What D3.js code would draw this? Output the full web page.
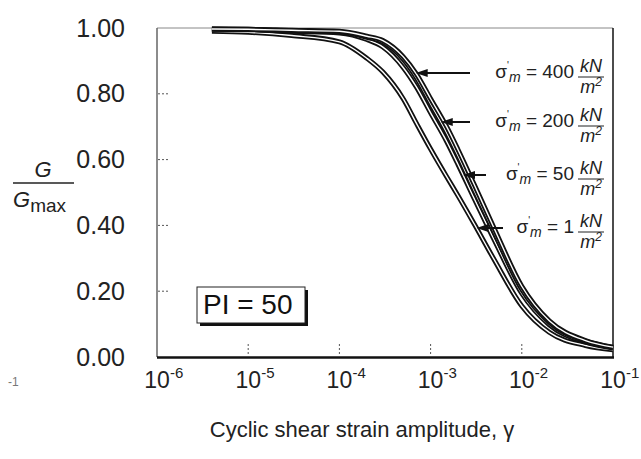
<!DOCTYPE html>
<head>
  <title>G/Gmax curves</title>
  <meta charset="UTF-8" />
  <style>
    body { margin: 0; background: #fff; }
    svg { display: block; font-family: "Liberation Sans", Arial, sans-serif; }
  </style>
</head>
<body>
  <svg width="641" height="459"></svg>
</body>

<script src="https://cdn.jsdelivr.net/npm/d3@7"></script>
<script>
  // values
  const strain = [4e-6, 1e-5, 3e-5, 1e-4, 2e-4, 3e-4, 5e-4, 7e-4, 1e-3, 1.5e-3, 2e-3, 3e-3, 5e-3, 1e-2, 2e-2, 5e-2, 1e-1];
  const g1   = [0.99, 0.987, 0.977, 0.958, 0.908, 0.866, 0.785, 0.71, 0.632, 0.548, 0.49, 0.405, 0.295, 0.155, 0.075, 0.035, 0.022];
  const g50  = [0.996, 0.995, 0.99, 0.985, 0.965, 0.942, 0.88, 0.82, 0.742, 0.655, 0.585, 0.482, 0.355, 0.193, 0.098, 0.045, 0.027];
  const g200 = [0.997, 0.996, 0.992, 0.988, 0.972, 0.957, 0.905, 0.848, 0.77, 0.682, 0.612, 0.507, 0.377, 0.205, 0.105, 0.048, 0.029];
  const g400 = [0.997, 0.996, 0.993, 0.99, 0.975, 0.962, 0.913, 0.86, 0.785, 0.70, 0.63, 0.525, 0.39, 0.215, 0.11, 0.05, 0.03];
  const pressures = ["400", "200", "50", "1"];
  const yTicks = [0, 0.2, 0.4, 0.6, 0.8, 1.0];
  const xTicks = [1e-6, 1e-5, 1e-4, 1e-3, 1e-2, 1e-1];
  const xExp = ["-6", "-5", "-4", "-3", "-2", "-1"];

  const svg = d3.select("svg");
  const x = d3.scaleLog().domain([1e-6, 1e-1]).range([157, 613]);
  const y = d3.scaleLinear().domain([0, 1]).range([357, 28]);

  // frame
  svg.append("line").attr("x1", 157).attr("x2", 613).attr("y1", 28).attr("y2", 28)
    .attr("stroke", "#888").attr("stroke-width", 1);
  svg.append("line").attr("x1", 157).attr("x2", 157).attr("y1", 28).attr("y2", 357)
    .attr("stroke", "#666").attr("stroke-width", 1.5);
  svg.append("line").attr("x1", 613).attr("x2", 613).attr("y1", 28).attr("y2", 358)
    .attr("stroke", "#111").attr("stroke-width", 1.5);
  svg.append("line").attr("x1", 157).attr("x2", 614).attr("y1", 357.5).attr("y2", 357.5)
    .attr("stroke", "#111").attr("stroke-width", 2.5);

  // dotted inner ticks
  svg.selectAll(".ytk").data(yTicks.filter(d => d > 0 && d < 1)).enter().append("line")
    .attr("x1", 158).attr("x2", 168).attr("y1", d => y(d)).attr("y2", d => y(d))
    .attr("stroke", "#555").attr("stroke-dasharray", "2,2");
  svg.selectAll(".xtk").data(xTicks.slice(1, -1)).enter().append("line")
    .attr("x1", d => x(d)).attr("x2", d => x(d)).attr("y1", 344).attr("y2", 354)
    .attr("stroke", "#555").attr("stroke-dasharray", "2,2");

  // y tick labels
  svg.selectAll(".ylab").data(yTicks).enter().append("text")
    .attr("x", 125).attr("y", d => y(d) + 8.5)
    .attr("text-anchor", "end").attr("font-size", 25).attr("fill", "#222")
    .text(d => d.toFixed(2));

  // x tick labels 10^n
  xTicks.forEach((d, i) => {
    svg.append("text").attr("x", x(d)).attr("y", 388)
      .attr("text-anchor", "middle").attr("font-size", 23).attr("fill", "#222").text("10");
    svg.append("text").attr("x", x(d) + 13).attr("y", 378)
      .attr("font-size", 15).attr("fill", "#222").text(xExp[i]);
  });
  svg.append("text").attr("x", 8).attr("y", 386).attr("font-size", 12).attr("fill", "#777").text("-1");

  // axis titles
  svg.append("text").attr("x", 362).attr("y", 437).attr("text-anchor", "middle")
    .attr("font-size", 22).attr("fill", "#222").text("Cyclic shear strain amplitude, γ");

  svg.append("text").attr("x", 43).attr("y", 177).attr("text-anchor", "middle")
    .attr("font-size", 22).attr("font-style", "italic").attr("fill", "#222").text("G");
  svg.append("line").attr("x1", 13).attr("x2", 74).attr("y1", 183).attr("y2", 183)
    .attr("stroke", "#222").attr("stroke-width", 1.5);
  const den = svg.append("text").attr("x", 13).attr("y", 207).attr("font-size", 22).attr("fill", "#222");
  den.append("tspan").attr("font-style", "italic").text("G");
  den.append("tspan").attr("dy", 5).attr("font-size", 19).text("max");

  // curves: black outline with white core
  const series = [g1, g50, g200, g400];
  const line = d3.line().x(d => x(d[0])).y(d => y(d[1])).curve(d3.curveMonotoneX);
  series.forEach(g => {
    const pts = strain.map((s, i) => [s, g[i]]);
    svg.append("path").attr("d", line(pts)).attr("fill", "none")
      .attr("stroke", "#111").attr("stroke-width", 5);
    svg.append("path").attr("d", line(pts)).attr("fill", "none")
      .attr("stroke", "#fff").attr("stroke-width", 1.4);
  });

  // PI box
  svg.append("rect").attr("x", 200).attr("y", 290).attr("width", 108).attr("height", 36).attr("fill", "#111");
  svg.append("rect").attr("x", 197).attr("y", 287).attr("width", 108).attr("height", 36)
    .attr("fill", "#fff").attr("stroke", "#222").attr("stroke-width", 1);
  svg.append("text").attr("x", 203).attr("y", 314).attr("font-size", 28).attr("fill", "#111").text("PI = 50");

  // annotations with arrows pointing at each curve
  const rowY = [73, 122, 175, 228];
  const rowCurve = [g400, g200, g50, g1];
  const lineEnd = [470, 470, 486, 503];

  function xAtG(g, target) {
    for (let i = 0; i < g.length - 1; i++) {
      if (g[i] >= target && g[i + 1] <= target) {
        const t = (g[i] - target) / (g[i] - g[i + 1]);
        const l = Math.log10(strain[i]) + t * (Math.log10(strain[i + 1]) - Math.log10(strain[i]));
        return x(Math.pow(10, l));
      }
    }
    return x(strain[0]);
  }

  pressures.forEach((p, i) => {
    const ry = rowY[i];
    const tip = xAtG(rowCurve[i], y.invert(ry));
    svg.append("line").attr("x1", tip + 8).attr("x2", lineEnd[i]).attr("y1", ry).attr("y2", ry)
      .attr("stroke", "#111").attr("stroke-width", 2);
    svg.append("path")
      .attr("d", `M${tip},${ry} L${tip + 12},${ry - 4} L${tip + 12},${ry + 4} Z`)
      .attr("fill", "#111");

    const t = svg.append("text").attr("x", 574).attr("y", ry + 5)
      .attr("text-anchor", "end").attr("font-size", 19).attr("fill", "#222");
    t.append("tspan").text("σ");
    t.append("tspan").attr("dy", -9).attr("font-size", 10).text("'");
    t.append("tspan").attr("dy", 13).attr("font-size", 14).attr("font-style", "italic").text("m");
    t.append("tspan").attr("dy", -4).text(" = " + p);

    svg.append("text").attr("x", 591).attr("y", ry - 1).attr("text-anchor", "middle")
      .attr("font-size", 18).attr("font-style", "italic").attr("fill", "#222").text("kN");
    svg.append("line").attr("x1", 578).attr("x2", 604).attr("y1", ry + 4).attr("y2", ry + 4)
      .attr("stroke", "#222").attr("stroke-width", 1);
    const m = svg.append("text").attr("x", 591).attr("y", ry + 20).attr("text-anchor", "middle")
      .attr("font-size", 18).attr("font-style", "italic").attr("fill", "#222");
    m.append("tspan").text("m");
    m.append("tspan").attr("dy", -7).attr("font-size", 12).text("2");
  });
</script>
